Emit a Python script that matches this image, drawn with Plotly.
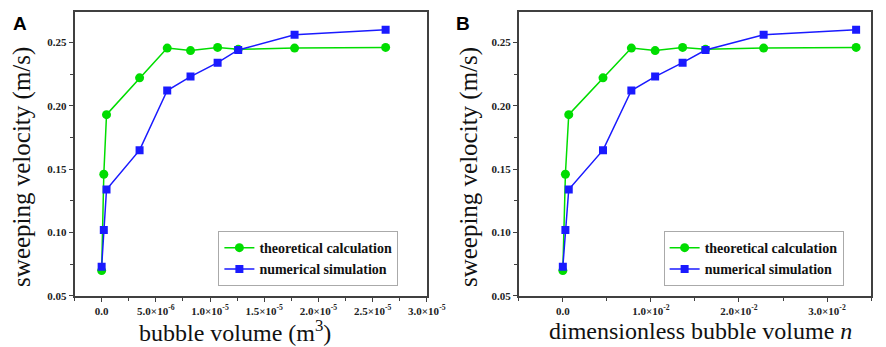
import plotly.graph_objects as go

# Panel A: bubble volume (m^3)
vol_theory = [0.0, 2.0e-7, 4.5e-7, 3.5e-6, 6.05e-6, 8.2e-6, 1.07e-5, 1.26e-5, 1.78e-5, 2.62e-5]
vel_theory = [0.070, 0.146, 0.193, 0.222, 0.2455, 0.2435, 0.246, 0.2445, 0.2455, 0.246]
vol_sim = [0.0, 2.0e-7, 4.5e-7, 3.5e-6, 6.05e-6, 8.2e-6, 1.07e-5, 1.26e-5, 1.78e-5, 2.62e-5]
vel_sim = [0.073, 0.102, 0.134, 0.165, 0.212, 0.223, 0.234, 0.244, 0.256, 0.260]

# Panel B: dimensionless bubble volume n
n_theory = [0.0, 0.00029, 0.00067, 0.00456, 0.00778, 0.01048, 0.0136, 0.0162, 0.0228, 0.0333]
n_sim = [0.0, 0.00029, 0.00067, 0.00456, 0.00778, 0.01048, 0.0136, 0.0162, 0.0228, 0.0333]

xticks_a = [0, 5e-6, 1e-5, 1.5e-5, 2e-5, 2.5e-5, 3e-5]
xticklabels_a = ["0.0", "5.0×10<sup>-6</sup>", "1.0×10<sup>-5</sup>", "1.5×10<sup>-5</sup>",
                 "2.0×10<sup>-5</sup>", "2.5×10<sup>-5</sup>", "3.0×10<sup>-5</sup>"]
xticks_b = [0, 0.01, 0.02, 0.03]
xticklabels_b = ["0.0", "1.0×10<sup>-2</sup>", "2.0×10<sup>-2</sup>", "3.0×10<sup>-2</sup>"]
yticks = [0.05, 0.10, 0.15, 0.20, 0.25]
yticklabels = ["0.05", "0.10", "0.15", "0.20", "0.25"]

GREEN = "#00dd00"
BLUE = "#1a1aff"
AXC = "#404040"
SERIF = "Liberation Serif, Times New Roman, serif"


def bold(labels):
    return ["<b>" + t + "</b>" for t in labels]


fig = go.Figure()
fig.add_trace(go.Scatter(x=vol_theory, y=vel_theory, mode="lines+markers", name="<b>theoretical calculation</b>",
                         line=dict(color=GREEN, width=1.5), marker=dict(symbol="circle", size=9, color=GREEN),
                         xaxis="x", yaxis="y", legend="legend"))
fig.add_trace(go.Scatter(x=vol_sim, y=vel_sim, mode="lines+markers", name="<b>numerical simulation</b>",
                         line=dict(color=BLUE, width=1.5), marker=dict(symbol="square", size=8, color=BLUE),
                         xaxis="x", yaxis="y", legend="legend"))
fig.add_trace(go.Scatter(x=n_theory, y=vel_theory, mode="lines+markers", name="<b>theoretical calculation</b>",
                         line=dict(color=GREEN, width=1.5), marker=dict(symbol="circle", size=9, color=GREEN),
                         xaxis="x2", yaxis="y2", legend="legend2"))
fig.add_trace(go.Scatter(x=n_sim, y=vel_sim, mode="lines+markers", name="<b>numerical simulation</b>",
                         line=dict(color=BLUE, width=1.5), marker=dict(symbol="square", size=8, color=BLUE),
                         xaxis="x2", yaxis="y2", legend="legend2"))

tickfont = dict(family=SERIF, size=11, color="#222")
common_axis = dict(showline=True, linecolor=AXC, linewidth=1.5, mirror=True, showgrid=False, zeroline=False,
                   ticks="outside", ticklen=4, tickwidth=1.2, tickcolor=AXC, tickfont=tickfont)

ydom = [1 - 293 / 347, 1 - 4 / 347]
legend_font = dict(family=SERIF, size=14, color="#111")
fig.update_layout(
    width=886, height=347, margin=dict(l=0, r=0, t=0, b=0),
    plot_bgcolor="white", paper_bgcolor="white",
    xaxis=dict(domain=[68 / 886, 428 / 886], range=[-2.5e-6, 3e-5], tickvals=xticks_a, ticktext=bold(xticklabels_a),
               minor=dict(dtick=2.5e-6, tick0=0, ticks="outside", ticklen=3, tickcolor=AXC), anchor="y", **common_axis),
    yaxis=dict(domain=ydom, range=[0.05, 0.274], tickvals=yticks, ticktext=bold(yticklabels),
               minor=dict(dtick=0.025, tick0=0.05, ticks="outside", ticklen=3, tickcolor=AXC), anchor="x", **common_axis),
    xaxis2=dict(domain=[522 / 886, 882 / 886], range=[-0.005, 0.035], tickvals=xticks_b, ticktext=bold(xticklabels_b),
                minor=dict(dtick=0.005, tick0=0, ticks="outside", ticklen=3, tickcolor=AXC), anchor="y2", **common_axis),
    yaxis2=dict(domain=ydom, range=[0.05, 0.274], tickvals=yticks, ticktext=bold(yticklabels),
                minor=dict(dtick=0.025, tick0=0.05, ticks="outside", ticklen=3, tickcolor=AXC), anchor="x2", **common_axis),
    legend=dict(x=215 / 886, y=1 - 255 / 347, xanchor="left", yanchor="middle", bgcolor="white",
                bordercolor="#aaaaaa", borderwidth=1, font=legend_font, tracegroupgap=0, itemwidth=30),
    legend2=dict(x=670 / 886, y=1 - 255 / 347, xanchor="left", yanchor="middle", bgcolor="white",
                 bordercolor="#aaaaaa", borderwidth=1, font=legend_font, tracegroupgap=0, itemwidth=30),
    showlegend=True,
)

ann_font = dict(family=SERIF, size=24, color="#111")
fig.add_annotation(text="sweeping velocity (m/s)", x=14 / 886, y=(1 - 162 / 347), xref="paper", yref="paper",
                   textangle=-90, showarrow=False, font=dict(family=SERIF, size=25, color="#111"),
                   xanchor="center", yanchor="middle")
fig.add_annotation(text="sweeping velocity (m/s)", x=471 / 886, y=(1 - 162 / 347), xref="paper", yref="paper",
                   textangle=-90, showarrow=False, font=dict(family=SERIF, size=25, color="#111"),
                   xanchor="center", yanchor="middle")
fig.add_annotation(text="bubble volume (m<sup>3</sup>)", x=232 / 886, y=1 - 329 / 347, xref="paper", yref="paper",
                   showarrow=False, font=ann_font, xanchor="center", yanchor="middle")
fig.add_annotation(text="dimensionless bubble volume <i>n</i>", x=708 / 886, y=1 - 329 / 347, xref="paper", yref="paper",
                   showarrow=False, font=ann_font, xanchor="center", yanchor="middle")
fig.add_annotation(text="<b>A</b>", x=3 / 886, y=1 - 3 / 347, xref="paper", yref="paper", showarrow=False,
                   font=dict(family="Liberation Sans", size=19, color="#000"), xanchor="left", yanchor="top")
fig.add_annotation(text="<b>B</b>", x=456 / 886, y=1 - 3 / 347, xref="paper", yref="paper", showarrow=False,
                   font=dict(family="Liberation Sans", size=19, color="#000"), xanchor="left", yanchor="top")

fig.write_html("out.html")
